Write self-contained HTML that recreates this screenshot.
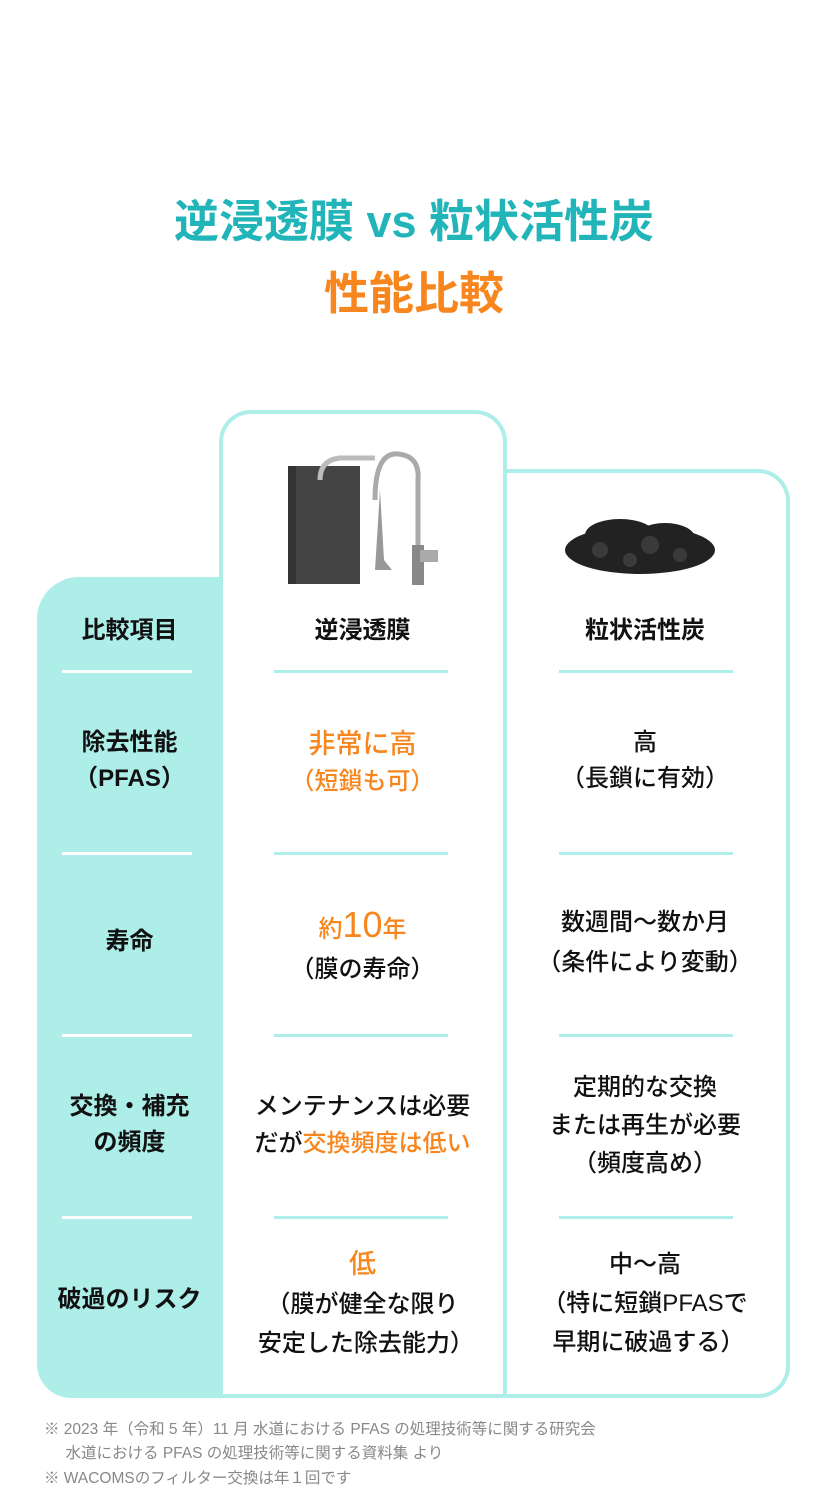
<!DOCTYPE html>
<html><head><meta charset="utf-8"><style>
body{margin:0;width:828px;height:1492px;background:#fff;position:relative;overflow:hidden;font-family:"Liberation Sans","Noto Sans CJK JP",sans-serif;color:#111}
.a{position:absolute}
.t{position:absolute;text-align:center;font-size:24px;font-weight:500;line-height:38px;white-space:nowrap}
.o{color:#f7861e}
.ln{position:absolute;height:3px;background:#adeee8}
</style></head><body>
<div class="a" style="left:0;top:190px;width:828px;text-align:center;font-size:45px;font-weight:700;color:#21b4b8;line-height:64px">逆浸透膜 <span style="font-family:'Liberation Sans',sans-serif">vs</span> 粒状活性炭</div>
<div class="a" style="left:0;top:262px;width:828px;text-align:center;font-size:45px;font-weight:700;color:#f7861e;line-height:64px">性能比較</div>

<div class="a" style="left:37px;top:577px;width:200px;height:821px;background:#adeee8;border-radius:42px 0 0 34px"></div>
<div class="a" style="left:219px;top:410px;width:280px;height:984px;border:4px solid #adeee8;border-bottom:none;border-radius:32px 32px 0 0;background:#fff"></div>
<div class="a" style="left:503px;top:469px;width:283px;height:921px;border:4px solid #adeee8;border-left:none;border-radius:0 32px 32px 0;background:#fff"></div>
<div class="a" style="left:222px;top:1394px;width:285px;height:4px;background:#adeee8"></div>
<div class="a" style="left:503px;top:469px;width:4px;height:929px;background:#adeee8"></div>

<svg class="a" style="left:280px;top:450px" width="170" height="140">
<rect x="8" y="16" width="72" height="118" fill="#444"/>
<rect x="8" y="16" width="8" height="118" fill="#333"/>
<path d="M40 30 Q40 10 60 8 L95 8" stroke="#bbb" stroke-width="5" fill="none"/>
<path d="M95 50 Q95 2 118 4 Q140 6 138 30 L138 100" stroke="#aaa" stroke-width="5" fill="none"/>
<path d="M100 40 L104 110 L112 120 L95 120 Z" fill="#999"/>
<rect x="132" y="95" width="12" height="40" fill="#888"/>
<rect x="140" y="100" width="18" height="12" fill="#aaa"/>
</svg>
<svg class="a" style="left:560px;top:510px" width="160" height="70">
<g fill="#222"><ellipse cx="80" cy="40" rx="75" ry="24"/><ellipse cx="60" cy="25" rx="35" ry="16"/><ellipse cx="105" cy="28" rx="30" ry="15"/></g>
<g fill="#3a3a3a"><circle cx="40" cy="40" r="8"/><circle cx="90" cy="35" r="9"/><circle cx="120" cy="45" r="7"/><circle cx="70" cy="50" r="7"/></g>
</svg>

<div class="t" style="left:37px;width:185px;top:612px;font-weight:700">比較項目</div>
<div class="t" style="left:222px;width:281px;top:612px;font-weight:700">逆浸透膜</div>
<div class="t" style="left:507px;width:276px;top:612px;font-weight:700">粒状活性炭</div>

<div class="ln" style="left:62px;width:130px;top:670px;background:#fff"></div>
<div class="ln" style="left:274px;width:174px;top:670px"></div>
<div class="ln" style="left:559px;width:174px;top:670px"></div>
<div class="ln" style="left:62px;width:130px;top:852px;background:#fff"></div>
<div class="ln" style="left:274px;width:174px;top:852px"></div>
<div class="ln" style="left:559px;width:174px;top:852px"></div>
<div class="ln" style="left:62px;width:130px;top:1034px;background:#fff"></div>
<div class="ln" style="left:274px;width:174px;top:1034px"></div>
<div class="ln" style="left:559px;width:174px;top:1034px"></div>
<div class="ln" style="left:62px;width:130px;top:1216px;background:#fff"></div>
<div class="ln" style="left:274px;width:174px;top:1216px"></div>
<div class="ln" style="left:559px;width:174px;top:1216px"></div>

<div class="t" style="left:37px;width:185px;top:725px;line-height:36px;font-weight:700">除去性能<br>（PFAS）</div>
<div class="t o" style="left:222px;width:281px;top:726px;line-height:36px"><span style="font-size:27px">非常に高</span><br>（短鎖も可）</div>
<div class="t" style="left:507px;width:276px;top:725px;line-height:36px">高<br>（長鎖に有効）</div>

<div class="t" style="left:37px;width:185px;top:923px;font-weight:700">寿命</div>
<div class="t" style="left:222px;width:281px;top:905px;line-height:40px"><span class="o">約<span style="font-size:36px">10</span>年</span><br>（膜の寿命）</div>
<div class="t" style="left:507px;width:276px;top:903px;line-height:40px">数週間〜数か月<br>（条件により変動）</div>

<div class="t" style="left:37px;width:185px;top:1089px;line-height:36px;font-weight:700">交換・補充<br>の頻度</div>
<div class="t" style="left:222px;width:281px;top:1088px;line-height:37px">メンテナンスは必要<br>だが<span class="o">交換頻度は低い</span></div>
<div class="t" style="left:507px;width:276px;top:1069px;line-height:38px">定期的な交換<br>または再生が必要<br>（頻度高め）</div>

<div class="t" style="left:37px;width:185px;top:1281px;font-weight:700">破過のリスク</div>
<div class="t" style="left:222px;width:281px;top:1245px;line-height:39px"><span class="o" style="font-size:27px">低</span><br>（膜が健全な限り<br>&nbsp;安定した除去能力）</div>
<div class="t" style="left:507px;width:276px;top:1245px;line-height:39px">中〜高<br>（特に短鎖PFASで<br>&nbsp;早期に破過する）</div>

<div class="a" style="left:44px;top:1418px;font-size:15.5px;color:#888;line-height:24px">※ 2023 年（令和 5 年）11 月 水道における PFAS の処理技術等に関する研究会<br>&nbsp;&nbsp;&nbsp;&nbsp;&nbsp;水道における PFAS の処理技術等に関する資料集 より</div>
<div class="a" style="left:44px;top:1467px;font-size:15.5px;color:#888;line-height:24px">※ WACOMSのフィルター交換は年１回です</div>
</body></html>
